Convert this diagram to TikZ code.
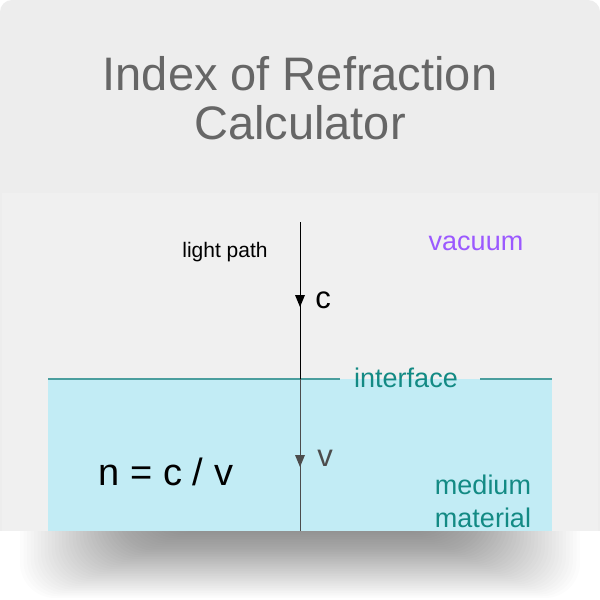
\documentclass[tikz,border=0pt]{standalone}
\usepackage{fontspec}
\setmainfont{Liberation Sans}
\definecolor{cardbg}{HTML}{EDEDED}
\definecolor{panel}{HTML}{F0F0F0}
\definecolor{water}{HTML}{C2ECF5}
\definecolor{teal}{HTML}{138A84}
\definecolor{line}{HTML}{4A9E9E}
\definecolor{purp}{HTML}{9B59FF}
\definecolor{ttl}{HTML}{666666}
\tikzset{lbl/.style={inner sep=0pt,font=\fontsize{21}{24}\selectfont},
 big/.style={inner sep=0pt,font=\fontsize{27}{30}\selectfont}}
\begin{document}
\begin{tikzpicture}[x=1pt,y=-1pt]
\useasboundingbox (0,0) rectangle (600,600);
\fill[white] (0,0) rectangle (600,600);
\fill[cardbg,rounded corners=12pt] (0,0) rectangle (600,540);
\fill[white] (0,530.5) rectangle (600,600);
\foreach \i in {0,...,39}{
 \fill[black,opacity=0.01,rounded corners=35pt] (20+3.5*\i,480) rectangle (580-3.5*\i,598-1.7*\i);
}
\fill[cardbg] (0,480) rectangle (600,530.5);
\fill[panel] (2,193) rectangle (598,530.5);
\fill[water] (48,379) rectangle (552,530.5);
\node[font=\fontsize{47}{52}\selectfont,text=ttl,align=center] (title) at (300,98) {Index of Refraction\\[-3pt]Calculator};
\coordinate (L1) at (48,379); \coordinate (L2) at (340,379);
\coordinate (R1) at (480,379); \coordinate (R2) at (552,379);
\draw[line,line width=1.2pt] (L1) -- (L2) (R1) -- (R2);
\node[big,text=teal] (iface) at (406,378) {interface};
\coordinate (top) at (300,222); \coordinate (bot) at (300,530.5);
\coordinate (mid) at (300,379);
\draw[black,line width=0.8pt] (top) -- (mid);
\draw[black!70,line width=0.8pt] (mid) -- (bot);
\fill[black] (295,295) -- (305,295) -- (300,307) -- cycle;
\fill[black!70] (295,455) -- (305,455) -- (300,467) -- cycle;
\node[lbl] (lp) at (225,252) {light path};
\node[inner sep=0pt,font=\fontsize{31}{34}\selectfont] (c) at (323,300) {c};
\node[inner sep=0pt,font=\fontsize{31}{34}\selectfont,text=black!70] (v) at (325,458) {v};
\node[big,text=purp] (vac) at (476,243) {vacuum};
\node[inner sep=0pt,font=\fontsize{38}{40}\selectfont] (eq) at (166,472) {n = c / v};
\node[big,text=teal] (med) at (483,485) {medium};
\node[big,text=teal] (mat) at (483,518) {material};
\end{tikzpicture}
\end{document}
